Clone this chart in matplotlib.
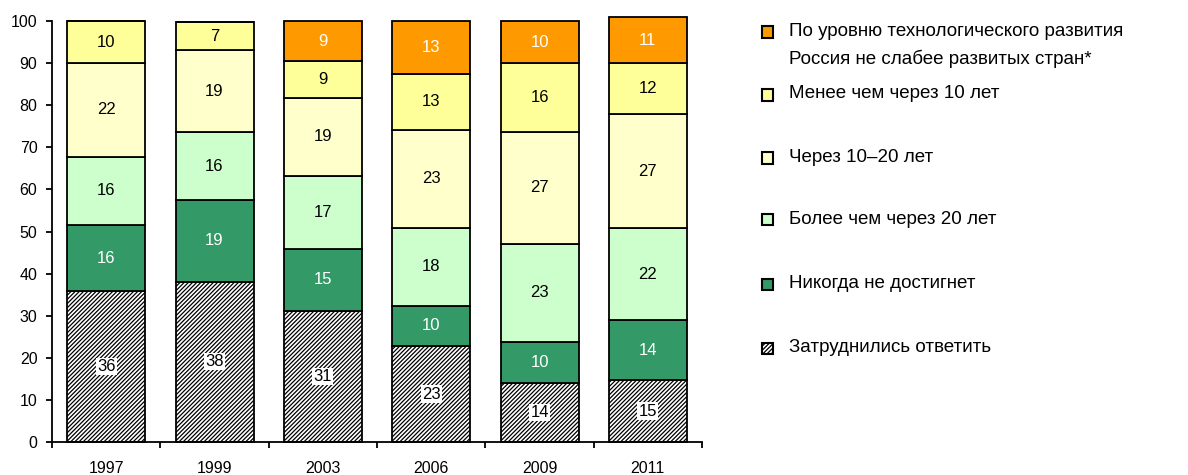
import numpy as np
import matplotlib
matplotlib.use("Agg")
import matplotlib.pyplot as plt
from matplotlib.patches import Rectangle

plt.rcParams['font.family'] = ['Liberation Sans', 'DejaVu Sans']
plt.rcParams['hatch.linewidth'] = 0.9

years = ['1997', '1999', '2003', '2006', '2009', '2011']

# shares in % (labels are the rounded values)
hard_to_say = [35.8, 38.1, 31.2, 22.8, 14.0, 14.7]
never = [15.8, 19.4, 14.6, 9.6, 9.8, 14.3]
more_20 = [16.2, 16.1, 17.4, 18.4, 23.2, 21.8]
in_10_20 = [22.2, 19.4, 18.6, 23.4, 26.7, 27.1]
less_10 = [10.0, 6.8, 8.7, 13.3, 16.3, 12.1]
already = [0, 0, 9.4, 12.6, 10.0, 10.9]

series = [
    (hard_to_say, 'Затруднились ответить', 'white', '////////', 'black'),
    (never, 'Никогда не достигнет', '#339966', None, 'white'),
    (more_20, 'Более чем через 20 лет', '#CCFFCC', None, 'black'),
    (in_10_20, 'Через 10–20 лет', '#FFFFCC', None, 'black'),
    (less_10, 'Менее чем через 10 лет', '#FFFF99', None, 'black'),
    (already, 'По уровню технологического развития\nРоссия не слабее развитых стран*', '#FF9900', None, 'white'),
]

fig = plt.figure(figsize=(11.88, 4.75), dpi=100)
ax = fig.add_axes([52 / 1188, 33 / 475, 650 / 1188, 421 / 475])

x = np.arange(len(years))
bottom = np.zeros(len(years))
for vals, label, color, hatch, tcolor in series:
    vals = np.array(vals, dtype=float)
    ax.bar(x, vals, bottom=bottom, width=0.72, color=color, hatch=hatch,
           edgecolor='black', linewidth=1.3, clip_on=False, zorder=2)
    for i, v in enumerate(vals):
        if v <= 0:
            continue
        yc = bottom[i] + v / 2
        kw = {}
        if hatch:
            kw['bbox'] = dict(facecolor='white', edgecolor='none', pad=0.8)
        ax.text(x[i], yc, f'{v:.0f}', ha='center', va='center', fontsize=12,
                color=tcolor, zorder=3, **kw)
    bottom += vals

ax.set_xlim(-0.5, len(years) - 0.5)
ax.set_ylim(0, 100)
ax.set_yticks(range(0, 101, 10))
ax.set_xticks(x)
ax.set_xticklabels(years)
ax.set_xticks(np.arange(-0.5, len(years), 1.0), minor=True)
ax.tick_params(axis='x', which='major', length=0, pad=14, labelsize=11.5)
ax.tick_params(axis='x', which='minor', length=4.5, width=1.3, direction='out')
ax.tick_params(axis='y', length=4.5, width=1.3, direction='out', pad=6, labelsize=11.5)
ax.spines['top'].set_visible(False)
ax.spines['right'].set_visible(False)
ax.spines['left'].set_linewidth(1.3)
ax.spines['bottom'].set_linewidth(1.3)

# legend drawn by hand, top to bottom
W, H = 1188, 475
leg_y = [32, 95, 158, 220, 284, 348]
for (vals, label, color, hatch, tcolor), yc in zip(series[::-1], leg_y):
    sq = 11
    fig.add_artist(Rectangle(((767 - sq / 2) / W, 1 - (yc + sq / 2) / H), sq / W, sq / H,
                             transform=fig.transFigure, facecolor=color, hatch=hatch,
                             edgecolor='black', linewidth=1.5))
    for k, line in enumerate(label.split('\n')):
        fig.text(789 / W, 1 - (yc - 1 + 28 * k) / H, line, ha='left', va='center',
                 fontsize=13.5)

fig.savefig('out.png', dpi=100)
